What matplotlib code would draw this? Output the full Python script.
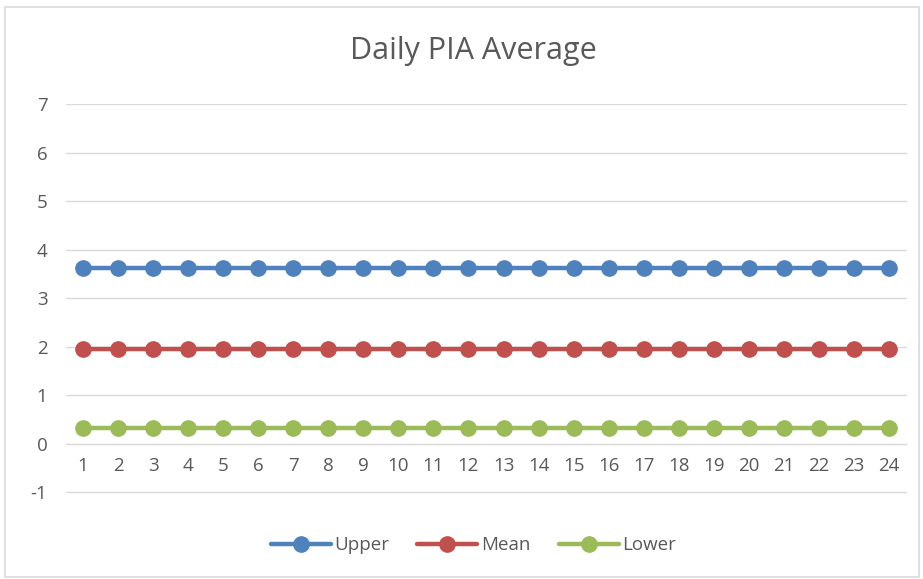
import numpy as np
import matplotlib.pyplot as plt
from matplotlib.patches import Rectangle

# Hourly values (1..24)
hours = list(range(1, 25))
upper = [3.62] * 24
mean = [1.94] * 24
lower = [0.32] * 24

series_names = ['Upper', 'Mean', 'Lower']
series_colors = ['#4F81BD', '#C0504D', '#9BBB59']

plt.rcParams['font.family'] = ['Open Sans', 'DejaVu Sans']
plt.rcParams['axes.unicode_minus'] = False
text_color = '#595959'

fig = plt.figure(figsize=(9.23, 5.79), dpi=100)
ax = fig.add_axes([65.5 / 923, 85 / 579, 841 / 923, 390 / 579])

for vals, name, col in zip([upper, mean, lower], series_names, series_colors):
    ax.plot(hours, vals, color=col, linewidth=3.2, marker='o', markersize=11,
            label=name, solid_capstyle='round')

ax.set_xlim(0.5, 24.5)
ax.set_ylim(-1.04, 7)
ax.set_yticks(range(-1, 8))
ax.set_xticks(hours)
ax.grid(axis='y', color='#d9d9d9', linewidth=1)
ax.set_axisbelow(True)

for s in ['top', 'right', 'left']:
    ax.spines[s].set_visible(False)
ax.spines['bottom'].set_position(('data', 0))
ax.spines['bottom'].set_color('#d9d9d9')
ax.tick_params(axis='both', length=0, labelsize=13.5, colors=text_color)
ax.tick_params(axis='x', pad=10)
ax.tick_params(axis='y', pad=13)

fig.suptitle('Daily PIA Average', x=0.513, y=0.937, fontsize=22, color=text_color)

leg = fig.legend(loc='center', bbox_to_anchor=(0.513, 0.058), ncol=3, frameon=False,
                 fontsize=13.5, handlelength=3.2, columnspacing=1.5, handletextpad=0.2)
for t in leg.get_texts():
    t.set_color(text_color)

# light frame around the chart area
fig.patches.append(Rectangle((5 / 923, 2 / 579), 914 / 923, 570 / 579, transform=fig.transFigure,
                             fill=False, edgecolor='#d9d9d9', linewidth=1.2))

fig.savefig('out.png', dpi=100, facecolor='white')
